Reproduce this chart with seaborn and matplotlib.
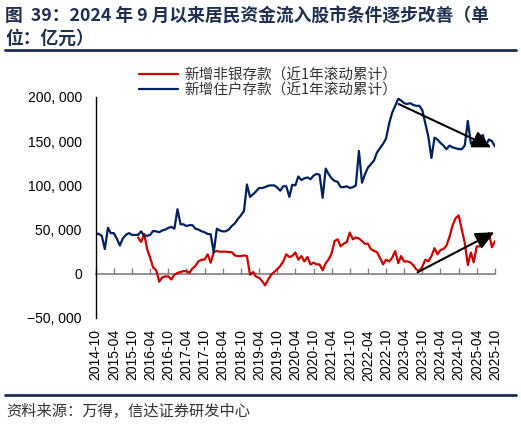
import numpy as np
import pandas as pd
import matplotlib
matplotlib.use("Agg")
import matplotlib.pyplot as plt
import matplotlib.dates as mdates
from matplotlib.lines import Line2D
import seaborn as sns

# ---------------- data ----------------
dates = pd.date_range("2014-10-01", "2025-10-01", freq="MS")

household = [45.8, 45, 43, 28, 52, 46, 46, 40, 32, 40, 44, 46, 44, 44, 44, 48, 43, 43, 44, 48.5,
             48, 47, 49, 50, 52, 53, 51, 73, 56, 56, 54, 55, 55, 51, 50, 48, 47, 45, 44.7, 24,
             51, 49, 48, 48, 50, 54, 57, 62, 66, 71, 101, 87, 90, 93, 97, 97, 98, 99.6, 100, 100,
             97.7, 94, 99, 99, 87, 100.7, 100, 110, 106, 108, 109, 107, 111, 113, 112, 86, 119, 113, 108, 105,
             104, 98, 98, 99, 97, 98, 100, 139, 103, 112, 120, 124, 128, 137, 142, 147, 153, 170, 182, 190,
             198, 196, 193, 192, 193, 191, 190, 190, 185, 170, 155, 131, 154, 152, 148, 145, 141, 145, 143, 142,
             141, 141, 145, 173, 147, 150, 150, 153, 157, 145, 152, 150, 144]

nonbank = [np.nan] * 14 + [41, 36, 45, 28, 18, 7, 4, -9, -4, -3, -3, -6.5, -1, 1, 2, 3,
           3, 1, 6, 9, 14, 16, 16, 22, 12.5, 24.5, 25.7, 25, 25, 25, 24.6, 24.5, 20.8, 20, 20, 20.8,
           20, -1, 2, -3, -4.5, -8, -13, -7, -1, 2, 5, 8.7, 14, 22, 19, 20, 24, 16, 20, 14,
           19, 10.6, 12.6, 10.6, 10.6, 4, 12, 16, 23, 37, 39, 31, 34, 36, 46.6, 39, 41, 40, 37, 34,
           34, 28, 26, 24.5, 18, 10.6, 16, 14, 18, 25.7, 12, 20, 14, 14, 13, 10, 5, 3, 8, 16,
           14, 20, 29, 22, 27, 28, 32, 42, 55, 63, 66, 50, 35, 10, 24, 13, 31, 31, 33, 38,
           46, 30, 37]

series_names = ["新增非银存款（近1年滚动累计）", "新增住户存款（近1年滚动累计）"]
tick_dates = pd.date_range("2014-10-01", "2025-10-01", freq="6MS")
tick_labels = [d.strftime("%Y-%m") for d in tick_dates]
yticks = [-50000, 0, 50000, 100000, 150000, 200000]

df = pd.DataFrame({
    "date": list(dates) * 2,
    "value": [v * 1000 for v in nonbank] + [v * 1000 for v in household],
    "series": [series_names[0]] * len(dates) + [series_names[1]] * len(dates),
})

# ---------------- style ----------------
sns.set_style("white")
plt.rcParams["font.family"] = ["Noto Sans CJK SC", "DejaVu Sans"]
plt.rcParams["axes.unicode_minus"] = True

RED = "#cc0000"
NAVY = "#002060"
TITLE_C = "#1f2f4f"

fig = plt.figure(figsize=(5.21, 4.25), dpi=100)
ax = fig.add_axes([0.1837, 0.2518, 0.7663, 0.52])

sns.lineplot(data=df, x="date", y="value", hue="series", palette=[RED, NAVY],
             linewidth=1.6, ax=ax, legend=False)

ax.set_xlim(dates[0], dates[-1])
ax.set_ylim(-50000, 200000)
ax.set_xlabel("")
ax.set_ylabel("")

# y axis
ax.set_yticks(yticks)
ax.set_yticklabels([f"{v:,}".replace(",", ", ").replace("-", "\u2212") for v in yticks],
                   family="Liberation Sans", fontsize=10, color="#000000")
ax.tick_params(axis="y", direction="out", length=4, width=1, color="black", pad=6)

# x labels at bottom, no tick marks
ax.set_xticks(tick_dates)
ax.set_xticklabels(tick_labels, rotation=90, family="Liberation Sans", fontsize=10, color="#000000")
ax.tick_params(axis="x", length=0, pad=8)

for s in ["top", "right", "bottom"]:
    ax.spines[s].set_visible(False)
ax.spines["left"].set_color("black")
ax.spines["left"].set_linewidth(1.0)

# zero line with upward ticks
sec = ax.secondary_xaxis(50000 / 250000)
sec.set_xticks(tick_dates)
sec.set_xticklabels([])
sec.tick_params(axis="x", direction="in", length=4, width=1, color="#808080")
sec.spines["bottom"].set_color("#808080")
sec.spines["bottom"].set_linewidth(1.2)
sec.spines["top"].set_visible(False)

# arrows
arrow_kw = dict(arrowstyle="-|>,head_length=0.75,head_width=0.35", color="black", lw=1.5,
                mutation_scale=15, shrinkA=0, shrinkB=0)
ax.annotate("", xy=(mdates.date2num(pd.Timestamp("2025-08-25")), 143000),
            xytext=(mdates.date2num(pd.Timestamp("2023-02-05")), 192000), arrowprops=arrow_kw)
ax.annotate("", xy=(mdates.date2num(pd.Timestamp("2025-09-25")), 47000),
            xytext=(mdates.date2num(pd.Timestamp("2023-08-15")), 1800), arrowprops=arrow_kw)

# legend
handles = [Line2D([0], [0], color=RED, lw=1.6), Line2D([0], [0], color=NAVY, lw=1.6)]
fig.legend(handles, series_names, loc="upper left", bbox_to_anchor=(0.266, 0.84),
           frameon=False, fontsize=10.5, handlelength=2.7, handletextpad=0.45,
           labelspacing=0.05, borderaxespad=0, borderpad=0, labelcolor="#333333")

# title
fig.text(0.01, 0.963, "图  39：2024 年 9 月以来居民资金流入股市条件逐步改善（单",
         fontsize=12.8, fontweight="bold", color=TITLE_C, va="center", ha="left")
fig.text(0.01, 0.908, "位：亿元）",
         fontsize=12.8, fontweight="bold", color=TITLE_C, va="center", ha="left")

# separators
fig.add_artist(Line2D([0.01, 0.99], [1 - 50 / 425, 1 - 50 / 425], color=TITLE_C, lw=2,
                      transform=fig.transFigure))
fig.add_artist(Line2D([0.01, 0.99], [1 - 395 / 425, 1 - 395 / 425], color=TITLE_C, lw=2,
                      transform=fig.transFigure))

fig.text(0.012, 1 - 411 / 425, "资料来源：万得，信达证券研发中心",
         fontsize=11, color="#333333", va="center", ha="left", style="italic")

fig.savefig("out.png", dpi=100)
